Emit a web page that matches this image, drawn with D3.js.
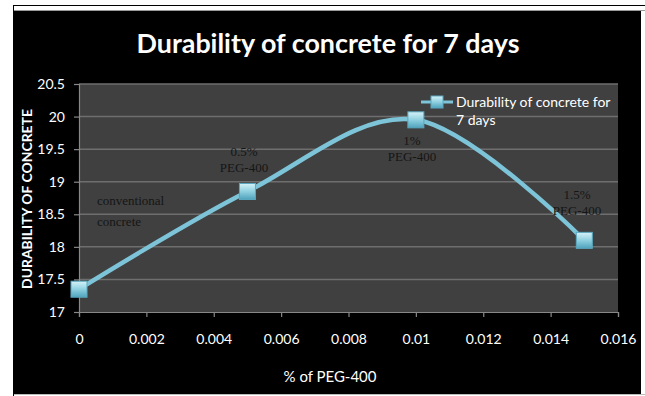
<!DOCTYPE html>
<html><head><meta charset="utf-8">
<script src="https://cdn.jsdelivr.net/npm/d3@7"></script>
<style>body{margin:0;background:#fff}svg{display:block}</style>
</head><body>
<svg id="c" width="645" height="396"></svg>
<script>
const xValues = [0, 0.005, 0.01, 0.015];
const durability = [17.35, 18.85, 19.95, 18.1];
const pointLabels = [["conventional","concrete"],["0.5%","PEG-400"],["1%","PEG-400"],["1.5%","PEG-400"]];
const xTicks = [0,0.002,0.004,0.006,0.008,0.01,0.012,0.014,0.016];
const yTicks = [17,17.5,18,18.5,19,19.5,20,20.5];
const seriesName = ["Durability of concrete for","7 days"];
const title = "Durability of concrete for 7 days";
const xTitle = "% of PEG-400";
const yTitle = "DURABILITY OF CONCRETE";

const svg = d3.select("#c");
const font = "Lato, 'Open Sans', sans-serif";
function fitWidth(sel, size, target){
  sel.attr("font-size",size);
  const w = sel.node().getComputedTextLength();
  sel.attr("font-size", size*target/w);
}
// frame
svg.append("rect").attr("x",13.5).attr("y",5.5).attr("width",640).attr("height",400).attr("fill","#fff").attr("stroke","#000");
svg.append("line").attr("x1",14).attr("x2",645).attr("y1",10.5).attr("y2",10.5).attr("stroke","#999");
svg.append("rect").attr("x",14).attr("y",11).attr("width",627).attr("height",383).attr("fill","#000");
svg.append("line").attr("x1",14).attr("x2",645).attr("y1",394.5).attr("y2",394.5).attr("stroke","#bbb");

const x = d3.scaleLinear().domain([0,0.016]).range([79,618]);
const y = d3.scaleLinear().domain([17,20.5]).range([312,84]);

svg.append("rect").attr("x",79).attr("y",84).attr("width",539).attr("height",228).attr("fill","#404040");
svg.append("g").selectAll("line").data(yTicks.slice(1)).join("line")
  .attr("x1",79).attr("x2",618).attr("y1",d=>y(d)).attr("y2",d=>y(d))
  .attr("stroke","#6e6e6e").attr("stroke-width",1.5);

// axes
const xa = svg.append("g").attr("transform","translate(0,312)")
  .call(d3.axisBottom(x).tickValues(xTicks).tickFormat(d=>String(+d.toFixed(3))).tickSize(5).tickPadding(17));
const ya = svg.append("g").attr("transform","translate(79,0)")
  .call(d3.axisLeft(y).tickValues(yTicks).tickFormat(d=>String(d)).tickSize(5).tickPadding(9));
[xa,ya].forEach(a=>{
  a.selectAll("path,line").attr("stroke","#888").attr("stroke-width",1.2);
  a.selectAll("text").attr("fill","#fff").attr("font-family",font).attr("font-size",14);
});
xa.selectAll("text").attr("dy","0.71em");

// titles
const t = svg.append("text").attr("x",328).attr("y",53).attr("text-anchor","middle")
  .attr("fill","#fff").attr("font-family",font).attr("font-weight","bold").text(title);
fitWidth(t, 25, 383);
const xt = svg.append("text").attr("x",330).attr("y",382).attr("text-anchor","middle")
  .attr("fill","#fff").attr("font-family",font).text(xTitle);
fitWidth(xt, 14, 93);
const yt = svg.append("text").attr("transform","translate(32,199) rotate(-90)").attr("text-anchor","middle")
  .attr("fill","#fff").attr("font-family",font).attr("font-weight","bold").text(yTitle);
fitWidth(yt, 14, 180);

// gradient for markers
const defs = svg.append("defs");
const g = defs.append("linearGradient").attr("id","mk").attr("x1",0).attr("y1",0).attr("x2",0).attr("y2",1);
g.append("stop").attr("offset","0").attr("stop-color","#d6f2f8");
g.append("stop").attr("offset","0.5").attr("stop-color","#8fd0e0");
g.append("stop").attr("offset","1").attr("stop-color","#4fa3bd");

const pts = xValues.map((v,i)=>[x(v),y(durability[i])]);
svg.append("path").attr("d",d3.line().curve(d3.curveCatmullRom.alpha(0))(pts))
  .attr("fill","none").attr("stroke","#7dc4d8").attr("stroke-width",4.5);
svg.append("g").selectAll("rect").data(pts).join("rect")
  .attr("x",d=>d[0]-8).attr("y",d=>d[1]-8).attr("width",16).attr("height",16)
  .attr("fill","url(#mk)").attr("stroke","#5aa8c0").attr("stroke-width",1);

// point labels
const lbl = [
  {dx:97, dy:205, anchor:"start", gap:21},
  {dx:244, dy:156, anchor:"middle", gap:16},
  {dx:412, dy:145, anchor:"middle", gap:16},
  {dx:577, dy:199, anchor:"middle", gap:16}
];
pointLabels.forEach((lines,i)=>{
  const tt = svg.append("text").attr("fill","#151515").attr("font-family","'Liberation Serif', serif")
    .attr("font-size",13).attr("text-anchor",lbl[i].anchor);
  lines.forEach((s,j)=>tt.append("tspan").attr("x",lbl[i].dx).attr("y",lbl[i].dy+j*lbl[i].gap).text(s));
});

// legend
const lg = svg.append("g");
lg.append("line").attr("x1",421).attr("x2",453).attr("y1",102).attr("y2",102).attr("stroke","#7dc4d8").attr("stroke-width",3);
lg.append("rect").attr("x",431).attr("y",96).attr("width",12).attr("height",12).attr("fill","url(#mk)").attr("stroke","#5aa8c0");
const lt = lg.append("text").attr("fill","#fff").attr("font-family",font).attr("font-size",14);
seriesName.forEach((s,j)=>lt.append("tspan").attr("x",456).attr("y",107+j*18).text(s));
</script>
</body></html>
